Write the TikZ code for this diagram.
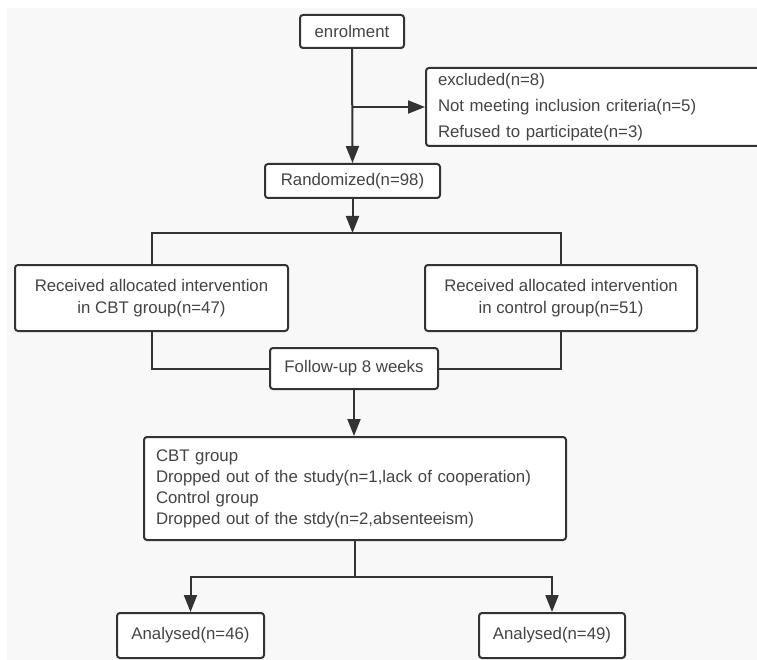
\documentclass[tikz,border=0pt]{standalone}
\usepackage{fontspec}
\setmainfont{Liberation Sans}
\usetikzlibrary{arrows.meta}
\definecolor{lineg}{RGB}{51,51,51}
\definecolor{textg}{RGB}{68,68,68}
\definecolor{paper}{RGB}{248,248,248}
\tikzset{
  fstage/.style = {draw=lineg, line width=2pt, rounded corners=3pt, fill=white,
                   text=textg, align=center, inner sep=4pt,
                   font=\fontsize{16.8}{22}\selectfont},
  % notes: left aligned text, several lines
  fnote/.style  = {fstage, align=left, inner xsep=12pt},
  flink/.style  = {draw=lineg, line width=2pt},
  farrow/.style = {flink, -{Triangle[length=17pt,width=13pt]}},
}
\begin{document}
\begin{tikzpicture}[x=1pt, y=-1pt]
  \fill[white] (0,0) rectangle (757,660);
  \useasboundingbox (0,0) rectangle (757,660);
  \fill[paper] (7,8) rectangle (757,660);

  \node[fstage, minimum width=104pt, minimum height=33pt] (enrol) at (352,31.5) {enrolment};
  \node[fnote, anchor=north west, minimum width=337pt, minimum height=78pt,
        text width=313pt, font=\fontsize{16.8}{26}\selectfont] (excl) at (425,67)
        {excluded(n=8)\\Not meeting inclusion criteria(n=5)\\Refused to participate(n=3)};
  \node[fstage, minimum width=175pt, minimum height=34pt] (rand) at (352.5,181) {Randomized(n=98)};

  \node[fstage, minimum width=273pt, minimum height=66pt] (cbt) at (151.5,298)
        {Received allocated intervention\\in CBT group(n=47)};
  \node[fstage, minimum width=272pt, minimum height=66pt] (ctl) at (561,298)
        {Received allocated intervention\\in control group(n=51)};
  \node[fstage, minimum width=168pt, minimum height=41pt] (fu) at (354,368.5) {Follow-up 8 weeks};

  \node[fnote, minimum width=422pt, minimum height=103pt, text width=398pt,
        font=\fontsize{16.8}{21}\selectfont] (drop) at (355,488.5)
        {CBT group\\Dropped out of the study(n=1,lack of cooperation)\\Control group\\Dropped out of the stdy(n=2,absenteeism)};

  \node[fstage, minimum width=147pt, minimum height=45pt] (ana1) at (190.5,635.5) {Analysed(n=46)};
  \node[fstage, minimum width=146pt, minimum height=45pt] (ana2) at (552,635.5) {Analysed(n=49)};

  \coordinate (split) at (352.5,233);
  \coordinate (join) at (355,577);

  \draw[farrow] (enrol.south) -- (rand.north);
  \draw[farrow] (enrol.south |- excl.west) -- (excl.west);
  \draw[farrow] (rand.south) -- (split);
  \draw[flink] (cbt.north) |- (split) -| (ctl.north);
  \draw[flink] (cbt.south) |- (fu.west);
  \draw[flink] (ctl.south) |- (fu.east);
  \draw[farrow] (fu.south) -- (fu.south |- drop.north);
  \draw[flink] (drop.south) -- (join);
  \draw[farrow] (join) -| (ana1.north);
  \draw[farrow] (join) -| (ana2.north);
\end{tikzpicture}
\end{document}
